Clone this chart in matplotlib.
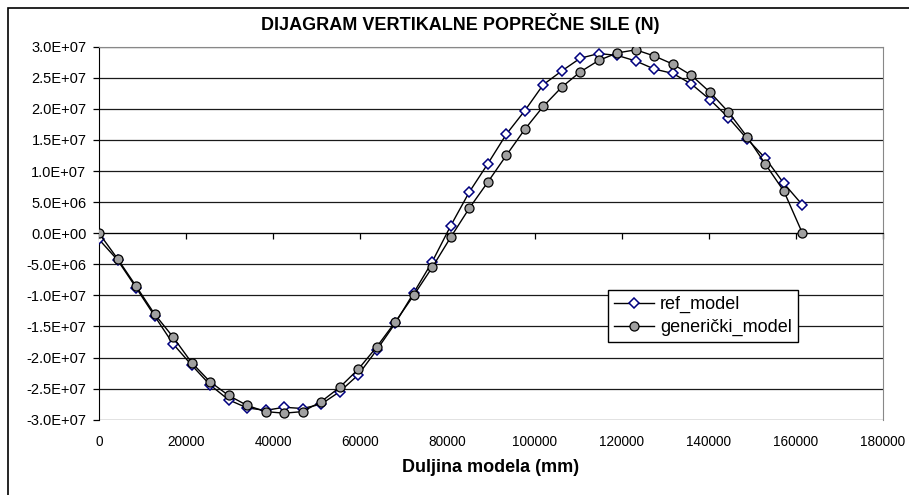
import matplotlib
matplotlib.use("Agg")
import matplotlib.pyplot as plt
from matplotlib.patches import Rectangle
from matplotlib.ticker import FuncFormatter

plt.rcParams['font.family'] = ['Liberation Sans', 'DejaVu Sans']

# duljina modela (mm)
x_mm = [0, 4250, 8500, 12750, 17000, 21250, 25500, 29750, 34000, 38250,
        42500, 46750, 51000, 55250, 59500, 63750, 68000, 72250, 76500, 80750,
        85000, 89250, 93500, 97750, 102000, 106250, 110500, 114750, 119000, 123250,
        127500, 131750, 136000, 140250, 144500, 148750, 153000, 157250, 161500]

# vertikalna poprecna sila (N)
ref_model = [-1.0e6, -4.3e6, -8.75e6, -13.3e6, -17.8e6, -21.2e6, -24.4e6, -26.8e6, -28.1e6, -28.5e6,
             -28.0e6, -28.2e6, -27.5e6, -25.5e6, -22.8e6, -18.8e6, -14.5e6, -9.6e6, -4.6e6, 1.2e6,
             6.6e6, 11.15e6, 15.9e6, 19.7e6, 23.9e6, 26.1e6, 28.15e6, 28.9e6, 28.6e6, 27.7e6,
             26.4e6, 25.7e6, 24.0e6, 21.5e6, 18.6e6, 15.2e6, 12.05e6, 8.0e6, 4.55e6]

gen_model = [0.0, -4.1e6, -8.5e6, -13.0e6, -16.7e6, -20.8e6, -23.9e6, -26.1e6, -27.7e6, -28.7e6,
             -28.95e6, -28.7e6, -27.1e6, -24.8e6, -21.9e6, -18.3e6, -14.3e6, -10.0e6, -5.5e6, -0.65e6,
             4.0e6, 8.2e6, 12.5e6, 16.7e6, 20.4e6, 23.5e6, 25.95e6, 27.8e6, 29.0e6, 29.5e6,
             28.5e6, 27.2e6, 25.4e6, 22.7e6, 19.5e6, 15.55e6, 11.1e6, 6.75e6, 0.0]

x_ticks = [0, 20000, 40000, 60000, 80000, 100000, 120000, 140000, 160000, 180000]
y_ticks = [-3.0e7, -2.5e7, -2.0e7, -1.5e7, -1.0e7, -5.0e6, 0.0,
           5.0e6, 1.0e7, 1.5e7, 2.0e7, 2.5e7, 3.0e7]

fig = plt.figure(figsize=(9.09, 4.95), dpi=100)
ax = fig.add_axes([99 / 909, 1 - 419.7 / 495, 784 / 909, 373 / 495])

ax.plot(x_mm, ref_model, color='black', lw=1.0, marker='D', ms=4.8,
        mfc='white', mec='#000080', mew=1.1, label='ref_model', zorder=3)
ax.plot(x_mm, gen_model, color='black', lw=1.0, marker='o', ms=6.5,
        mfc='#a0a0a0', mec='black', mew=0.9, label='generički_model', zorder=4)

ax.set_xlim(0, 180000)
ax.set_ylim(-3.0e7, 3.0e7)
ax.set_xticks(x_ticks)
ax.set_yticks(y_ticks)
ax.yaxis.set_major_formatter(FuncFormatter(lambda v, p: f"{v:.1E}"))

ax.set_axisbelow(True)
ax.yaxis.grid(True, color='#1a1a1a', lw=0.9)

# x os prolazi kroz nulu, oznake ostaju dolje
ax.spines['bottom'].set_position(('data', 0))
ax.spines['bottom'].set_color('black')
ax.spines['left'].set_color('black')
ax.spines['top'].set_color('#888888')
ax.spines['right'].set_color('#888888')
ax.tick_params(axis='x', direction='out', length=4, width=0.9, labelbottom=False)
ax.tick_params(axis='y', direction='out', length=4, width=0.9, labelsize=10.5, pad=5)

sec = ax.secondary_xaxis('bottom')
sec.set_xticks(x_ticks)
sec.spines['bottom'].set_visible(False)
sec.tick_params(length=0, labelsize=9.8, pad=11)

sec.set_xlabel('Duljina modela (mm)', fontsize=13, fontweight='bold', labelpad=7)

fig.text(460 / 909, 1 - 23 / 495, 'DIJAGRAM VERTIKALNE POPREČNE SILE (N)',
         ha='center', va='center', fontsize=13, fontweight='bold')

leg = ax.legend(loc='upper left', bbox_to_anchor=(0.649, 0.348), fontsize=13,
                frameon=True, fancybox=False, framealpha=1, edgecolor='black',
                handlelength=2.2, handletextpad=0.35, borderpad=0.35,
                labelspacing=0.3, borderaxespad=0)
leg.get_frame().set_linewidth(1.0)

# okvir dijagrama
fig.patches.append(Rectangle((8 / 909, -0.1), 1.2, 1 - 8 / 495 + 0.1,
                             transform=fig.transFigure, fill=False,
                             edgecolor='black', lw=1.2))

fig.savefig('out.png', dpi=100)
